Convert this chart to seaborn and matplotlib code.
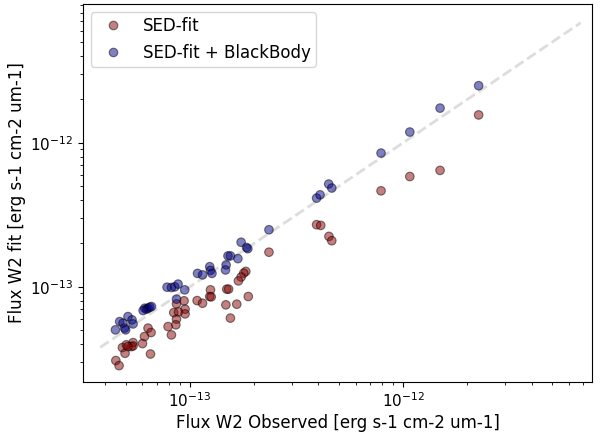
import pandas as pd
import matplotlib
matplotlib.use('Agg')
import matplotlib.pyplot as plt
from matplotlib.ticker import NullFormatter
import seaborn as sb
import numpy as np

# SED-fit only (observed vs fitted W2 flux)
obs_sed = [2.26e-12, 1.49e-12, 1.075e-12, 7.88e-13, 3.93e-13, 4.11e-13, 4.49e-13, 4.63e-13,
           2.35e-13, 1.83e-13, 1.79e-13, 1.74e-13, 1.69e-13, 1.88e-13, 1.49e-13, 1.52e-13,
           1.476e-13, 1.66e-13, 1.55e-13, 1.25e-13, 1.24e-13, 1.26e-13, 1.082e-13, 1.147e-13,
           9.4e-14, 8.66e-14, 8.41e-14, 8.85e-14, 9.5e-14, 9.5e-14, 8.66e-14, 8.6e-14,
           7.91e-14, 8.2e-14, 6.37e-14, 6.58e-14, 6.13e-14, 6.0e-14, 5.42e-14, 5.32e-14,
           5.42e-14, 4.83e-14, 5.04e-14, 4.97e-14, 5.13e-14, 6.54e-14, 4.5e-14, 4.66e-14]
fit_sed = [1.56e-12, 6.43e-13, 5.83e-13, 4.64e-13, 2.70e-13, 2.67e-13, 2.24e-13, 2.09e-13,
           1.74e-13, 1.28e-13, 1.245e-13, 1.17e-13, 1.10e-13, 8.57e-14, 9.64e-14, 9.64e-14,
           7.5e-14, 7.58e-14, 6.07e-14, 9.53e-14, 8.57e-14, 8.52e-14, 8.03e-14, 7.7e-14,
           8.0e-14, 7.62e-14, 6.63e-14, 6.7e-14, 7.0e-14, 6.49e-14, 5.97e-14, 5.45e-14,
           5.3e-14, 4.64e-14, 5.17e-14, 4.82e-14, 4.52e-14, 4.04e-14, 4.1e-14, 3.85e-14,
           3.89e-14, 3.79e-14, 3.96e-14, 3.46e-14, 3.85e-14, 3.42e-14, 3.08e-14, 2.84e-14]

# SED-fit + BlackBody
obs_bb = [2.26e-12, 1.49e-12, 1.075e-12, 7.88e-13, 4.48e-13, 4.63e-13, 3.93e-13, 4.08e-13,
          2.35e-13, 1.74e-13, 1.845e-13, 1.87e-13, 1.51e-13, 1.55e-13, 1.68e-13, 1.48e-13,
          1.47e-13, 1.24e-13, 1.25e-13, 1.27e-13, 1.087e-13, 1.147e-13, 7.82e-14, 8.2e-14,
          8.5e-14, 8.81e-14, 9.47e-14, 8.66e-14, 6.15e-14, 6.26e-14, 6.37e-14, 6.49e-14,
          6.61e-14, 6.04e-14, 5.13e-14, 5.36e-14, 5.42e-14, 4.69e-14, 4.86e-14, 4.48e-14,
          4.95e-14, 5.0e-14]
fit_bb = [2.49e-12, 1.74e-12, 1.187e-12, 8.48e-13, 5.17e-13, 4.85e-13, 4.13e-13, 4.35e-13,
          2.49e-13, 2.04e-13, 1.875e-13, 1.84e-13, 1.64e-13, 1.64e-13, 1.57e-13, 1.42e-13,
          1.31e-13, 1.38e-13, 1.30e-13, 1.24e-13, 1.24e-13, 1.21e-13, 9.95e-14, 9.9e-14,
          1.0e-13, 1.045e-13, 9.53e-14, 8.22e-14, 7.11e-14, 7.0e-14, 7.11e-14, 7.23e-14,
          7.3e-14, 6.85e-14, 6.22e-14, 5.9e-14, 5.53e-14, 5.74e-14, 5.6e-14, 5.03e-14,
          5.17e-14, 5.03e-14]

# one-to-one reference line
line_ends = [3.8e-14, 6.8e-12]

df = pd.DataFrame({
    'obs': obs_sed + obs_bb,
    'fit': fit_sed + fit_bb,
    'model': ['SED-fit'] * len(obs_sed) + ['SED-fit + BlackBody'] * len(obs_bb),
})

fig = plt.figure(figsize=(6, 4.32), dpi=100)
ax = fig.add_axes([0.138, 0.116, 0.849, 0.875])

ax.plot(line_ends, line_ends, '--', color='#dddddd', lw=2, zorder=1)
sb.scatterplot(data=df, x='obs', y='fit', hue='model',
               palette={'SED-fit': 'darkred', 'SED-fit + BlackBody': 'darkblue'},
               alpha=0.5, s=38, edgecolor='black', linewidth=0.8, ax=ax, zorder=2)

ax.set_xscale('log')
ax.set_yscale('log')
ax.set_xlim(3.15e-14, 7.7e-12)
ax.set_ylim(2.19e-14, 9.2e-12)
ax.xaxis.set_minor_formatter(NullFormatter())
ax.yaxis.set_minor_formatter(NullFormatter())
ax.set_xlabel('Flux W2 Observed [erg s-1 cm-2 um-1]', fontsize=12, labelpad=3)
ax.set_ylabel('Flux W2 fit [erg s-1 cm-2 um-1]', fontsize=12, labelpad=3)
ax.tick_params(labelsize=11)
ax.legend(loc='upper left', fontsize=12, borderpad=0.3)

plt.savefig('out.png', dpi=100)
